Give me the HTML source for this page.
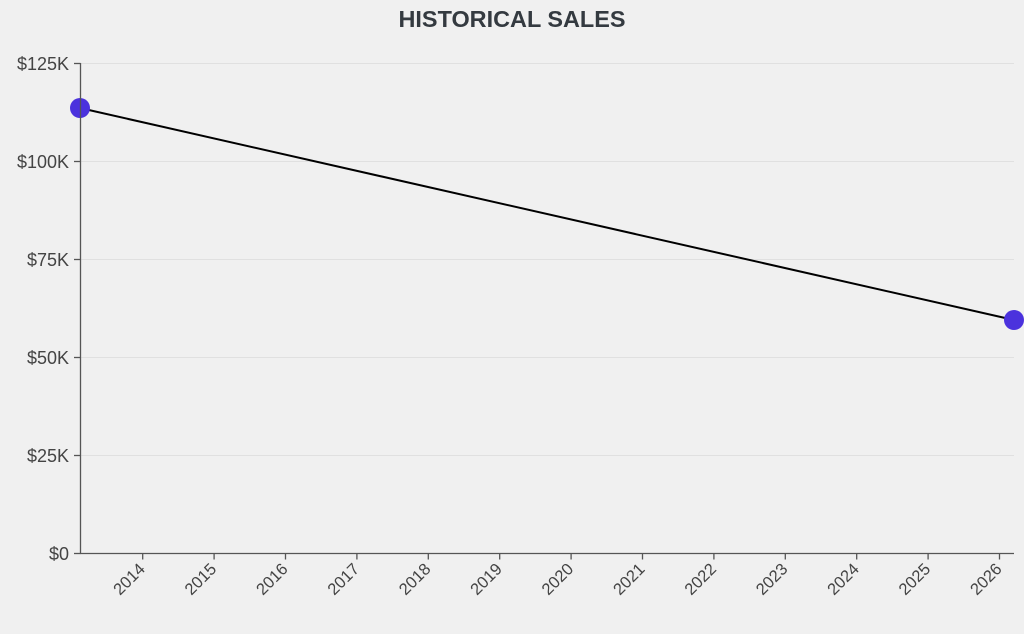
<!DOCTYPE html>
<html>
<head>
<meta charset="utf-8">
<style>
  html, body { margin: 0; padding: 0; background: #f0f0f0; }
  svg { display: block; }
  text { font-family: "Liberation Sans", "DejaVu Sans", sans-serif; }
</style>
</head>
<body>
<svg width="1024" height="634" viewBox="0 0 1024 634" xmlns="http://www.w3.org/2000/svg">
  <rect x="0" y="0" width="1024" height="634" fill="#f0f0f0"/>
  <text x="512" y="27" text-anchor="middle" font-size="23" font-weight="bold" fill="#343a40" textLength="227" lengthAdjust="spacingAndGlyphs">HISTORICAL SALES</text>

  <!-- gridlines -->
  <g stroke="#e0e0e0" stroke-width="1">
    <line x1="80" y1="63.5" x2="1014" y2="63.5"/>
    <line x1="80" y1="161.5" x2="1014" y2="161.5"/>
    <line x1="80" y1="259.5" x2="1014" y2="259.5"/>
    <line x1="80" y1="357.5" x2="1014" y2="357.5"/>
    <line x1="80" y1="455.5" x2="1014" y2="455.5"/>
  </g>

  <!-- data line -->
  <line x1="80" y1="108" x2="1014" y2="320" stroke="#000" stroke-width="2"/>
  <circle cx="80" cy="108" r="10" fill="#4b32dd"/>
  <circle cx="1014" cy="320" r="10" fill="#4b32dd"/>

  <!-- y axis -->
  <g stroke="#555" stroke-width="1.3" fill="none">
    <line x1="80.5" y1="63" x2="80.5" y2="554"/>
    <line x1="74" y1="63.5" x2="80.5" y2="63.5"/>
    <line x1="74" y1="161.5" x2="80.5" y2="161.5"/>
    <line x1="74" y1="259.5" x2="80.5" y2="259.5"/>
    <line x1="74" y1="357.5" x2="80.5" y2="357.5"/>
    <line x1="74" y1="455.5" x2="80.5" y2="455.5"/>
    <line x1="74" y1="553.5" x2="80.5" y2="553.5"/>
  </g>
  <g font-size="18" fill="#444" text-anchor="end">
    <text x="69" y="70">$125K</text>
    <text x="69" y="168">$100K</text>
    <text x="69" y="266">$75K</text>
    <text x="69" y="364">$50K</text>
    <text x="69" y="462">$25K</text>
    <text x="69" y="560">$0</text>
  </g>

  <!-- x axis -->
  <g stroke="#555" stroke-width="1.3" fill="none">
    <line x1="80" y1="553.5" x2="1014" y2="553.5"/>
    <line x1="142.7" y1="553" x2="142.7" y2="559.5"/>
    <line x1="214.1" y1="553" x2="214.1" y2="559.5"/>
    <line x1="285.5" y1="553" x2="285.5" y2="559.5"/>
    <line x1="356.9" y1="553" x2="356.9" y2="559.5"/>
    <line x1="428.3" y1="553" x2="428.3" y2="559.5"/>
    <line x1="499.7" y1="553" x2="499.7" y2="559.5"/>
    <line x1="571.1" y1="553" x2="571.1" y2="559.5"/>
    <line x1="642.5" y1="553" x2="642.5" y2="559.5"/>
    <line x1="713.9" y1="553" x2="713.9" y2="559.5"/>
    <line x1="785.3" y1="553" x2="785.3" y2="559.5"/>
    <line x1="856.7" y1="553" x2="856.7" y2="559.5"/>
    <line x1="928.1" y1="553" x2="928.1" y2="559.5"/>
    <line x1="999.5" y1="553" x2="999.5" y2="559.5"/>
  </g>
  <g font-size="16.5" fill="#444" text-anchor="end">
    <text transform="translate(146,570) rotate(-45)">2014</text>
    <text transform="translate(217.4,570) rotate(-45)">2015</text>
    <text transform="translate(288.8,570) rotate(-45)">2016</text>
    <text transform="translate(360.2,570) rotate(-45)">2017</text>
    <text transform="translate(431.6,570) rotate(-45)">2018</text>
    <text transform="translate(503,570) rotate(-45)">2019</text>
    <text transform="translate(574.4,570) rotate(-45)">2020</text>
    <text transform="translate(645.8,570) rotate(-45)">2021</text>
    <text transform="translate(717.2,570) rotate(-45)">2022</text>
    <text transform="translate(788.6,570) rotate(-45)">2023</text>
    <text transform="translate(860,570) rotate(-45)">2024</text>
    <text transform="translate(931.4,570) rotate(-45)">2025</text>
    <text transform="translate(1002.8,570) rotate(-45)">2026</text>
  </g>
</svg>
</body>
</html>
